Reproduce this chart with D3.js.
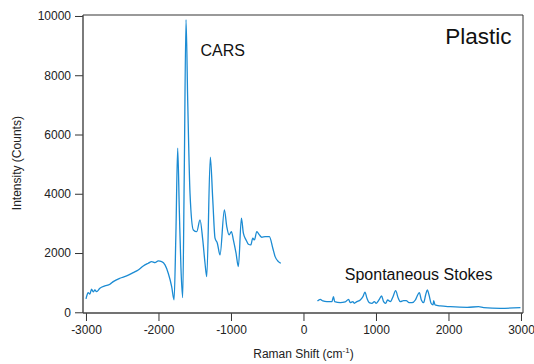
<!DOCTYPE html>
<html>
<head>
<meta charset="utf-8">
<script src="https://cdn.jsdelivr.net/npm/d3@7"></script>
<style>
  body { margin: 0; background: #fff; }
  svg { display: block; font-family: "Liberation Sans", Arial, sans-serif; }
  .axis text { font-size: 12px; fill: #222; }
  .axis line { stroke: #333; }
  .axis path { display: none; }
  .line { fill: none; stroke: #1b8bd3; stroke-width: 1.3; stroke-linejoin: round; }
</style>
</head>
<body>
<div id="chart"></div>
<script>
var margin = {top: 15, right: 11, bottom: 51, left: 83},
    width = 534 - margin.left - margin.right,
    height = 364 - margin.top - margin.bottom;

// CARS spectrum (anti-Stokes side), Raman shift in cm-1 / counts
var carsShift = [-3000, -2992, -2970, -2946, -2923, -2900, -2877, -2854, -2808, -2739,
  -2670, -2624, -2532, -2439, -2348, -2279, -2210, -2141, -2094, -2048,
  -2003, -1956, -1910, -1865, -1818, -1785, -1760, -1735, -1712, -1690,
  -1666, -1645, -1620, -1597, -1565, -1519, -1472, -1427, -1389, -1358,
  -1334, -1285, -1251, -1220, -1188, -1151, -1091, -1058, -1026, -994,
  -967, -930, -898, -856, -829, -792, -760, -727, -699, -677,
  -644, -608, -575, -529, -470, -423, -391, -345, -312];
var carsCounts = [450, 527, 662, 618, 777, 686, 753, 696, 811, 888,
  946, 1034, 1149, 1226, 1338, 1429, 1564, 1655, 1709, 1675,
  1733, 1709, 1598, 1317, 865, 420, 2600, 5540, 3400, 1500,
  493, 4500, 9874, 7171, 4020, 2780, 2723, 3118, 2442, 1655,
  1203, 5236, 3794, 2500, 2331, 1936, 3456, 2892, 2611, 2723,
  2442, 1993, 1540, 3175, 2669, 2442, 2297, 2273, 2500, 2442,
  2723, 2611, 2533, 2554, 2554, 2162, 1878, 1709, 1655];

// spontaneous Stokes spectrum
var stokesShift = [193, 231, 268, 323, 392, 414, 430, 507, 576, 622,
  645, 682, 700, 737, 783, 820, 848, 876, 907, 945,
  977, 1004, 1041, 1077, 1105, 1133, 1160, 1198, 1235, 1271,
  1308, 1336, 1381, 1418, 1456, 1497, 1543, 1575, 1598, 1626,
  1657, 1685, 1708, 1732, 1760, 1787, 1796, 1815, 1888, 2026,
  2257, 2417, 2486, 2717, 2993];
var stokesCounts = [382, 439, 382, 358, 358, 527, 358, 324, 348, 439,
  324, 358, 304, 358, 415, 527, 676, 473, 324, 304,
  358, 304, 415, 550, 358, 304, 415, 358, 527, 730,
  473, 358, 392, 392, 324, 324, 415, 584, 662, 415,
  324, 584, 753, 584, 304, 247, 392, 247, 213, 189,
  169, 189, 155, 135, 155];

var xTicks = [-3000, -2000, -1000, 0, 1000, 2000, 3000];
var yTicks = [0, 2000, 4000, 6000, 8000, 10000];

var x = d3.scaleLinear()
    .domain([-3041, 3028])
    .range([0, width]);

var y = d3.scaleLinear()
    .domain([-24, 10033])
    .range([height, 0]);

var xAxis = d3.axisBottom(x)
    .tickValues(xTicks)
    .tickSize(8)
    .tickSizeOuter(0)
    .tickPadding(4)
    .tickFormat(d3.format("d"));

var yAxis = d3.axisLeft(y)
    .tickValues(yTicks)
    .tickSize(8)
    .tickSizeOuter(0)
    .tickPadding(4)
    .tickFormat(d3.format("d"));

var line = d3.line()
    .curve(d3.curveMonotoneX)
    .x(function(d) { return x(d[0]); })
    .y(function(d) { return y(d[1]); });

var svg = d3.select("#chart").append("svg")
    .attr("width", width + margin.left + margin.right)
    .attr("height", height + margin.top + margin.bottom)
  .append("g")
    .attr("transform", "translate(" + margin.left + "," + margin.top + ")");

svg.append("g")
    .attr("class", "x axis")
    .attr("transform", "translate(0," + height + ")")
    .call(xAxis)
  .selectAll("text")
    .text(function(d) { return d < 0 ? "-" + Math.abs(d) : d; });

svg.append("g")
    .attr("class", "y axis")
    .call(yAxis);

// frame
svg.append("line").attr("x1", 0).attr("x2", width).attr("y1", 0).attr("y2", 0)
    .style("stroke", "#777").style("stroke-width", 1.6);
svg.append("line").attr("x1", width).attr("x2", width).attr("y1", 0).attr("y2", height)
    .style("stroke", "#333").style("stroke-width", 1);
svg.append("line").attr("x1", 0).attr("x2", 0).attr("y1", 0).attr("y2", height)
    .style("stroke", "#444").style("stroke-width", 1.4);
svg.append("line").attr("x1", 0).attr("x2", width).attr("y1", height).attr("y2", height)
    .style("stroke", "#444").style("stroke-width", 1.4);

var cars = d3.zip(carsShift, carsCounts);
var stokes = d3.zip(stokesShift, stokesCounts);

svg.append("path")
    .attr("class", "line")
    .attr("d", line(cars));

svg.append("path")
    .attr("class", "line")
    .attr("d", line(stokes));

// labels
svg.append("text")
    .attr("x", x(-1420))
    .attr("y", 41)
    .style("font-size", "16px")
    .style("fill", "#111")
    .text("CARS");

svg.append("text")
    .attr("x", x(570))
    .attr("y", 264.5)
    .style("font-size", "16px")
    .style("fill", "#111")
    .text("Spontaneous Stokes");

svg.append("text")
    .attr("x", width - 11.5)
    .attr("y", 29)
    .attr("text-anchor", "end")
    .style("font-size", "22.5px")
    .style("fill", "#111")
    .text("Plastic");

var xt = svg.append("text")
    .attr("x", x(0))
    .attr("y", height + 45)
    .attr("text-anchor", "middle")
    .style("font-size", "12px")
    .style("fill", "#222");
xt.append("tspan").text("Raman Shift (cm");
xt.append("tspan").attr("dy", -5).style("font-size", "8px").text("-1");
xt.append("tspan").attr("dy", 5).text(")");

svg.append("text")
    .attr("transform", "rotate(-90)")
    .attr("x", -(y(0) + y(10000)) / 2 + 1)
    .attr("y", -62)
    .attr("text-anchor", "middle")
    .style("font-size", "12px")
    .style("fill", "#222")
    .text("Intensity (Counts)");
</script>
</body>
</html>
